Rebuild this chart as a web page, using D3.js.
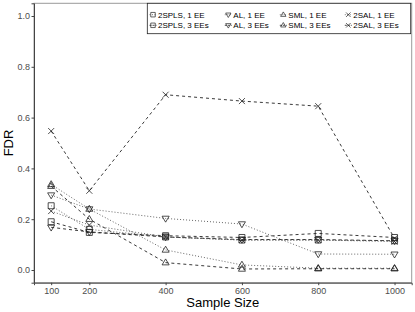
<!DOCTYPE html>
<html>
<head>
<meta charset="utf-8">
<script src="https://cdn.jsdelivr.net/npm/d3@7"></script>
<style>
  body { margin: 0; background: #fff; }
  text { font-family: "Liberation Sans", Arial, sans-serif; }
</style>
</head>
<body>
<script>
// sample sizes on the x axis
var sizes = [100, 200, 400, 600, 800, 1000];

// FDR values, one array per method / number of EEs
var fdr2spls1 = [0.253, 0.160, 0.130, 0.118, 0.118, 0.115];
var fdr2spls3 = [0.190, 0.148, 0.135, 0.128, 0.144, 0.128];
var fdrAl1 = [0.295, 0.240, 0.203, 0.181, 0.063, 0.062];
var fdrAl3 = [0.168, 0.150, 0.130, 0.120, 0.120, 0.115];
var fdrSml1 = [0.337, 0.240, 0.079, 0.020, 0.007, 0.007];
var fdrSml3 = [0.330, 0.200, 0.029, 0.004, 0.005, 0.005];
var fdr2sal1 = [0.232, 0.177, 0.130, 0.118, 0.118, 0.112];
var fdr2sal3 = [0.547, 0.312, 0.690, 0.665, 0.645, 0.125];

var seriesNames = ["2SPLS, 1 EE", "2SPLS, 3 EEs", "AL, 1 EE", "AL, 3 EEs",
                   "SML, 1 EE", "SML, 3 EEs", "2SAL, 1 EE", "2SAL, 3 EEs"];
var seriesShapes = ["square", "square", "down", "down", "up", "up", "cross", "cross"];
var seriesValues = [fdr2spls1, fdr2spls3, fdrAl1, fdrAl3, fdrSml1, fdrSml3, fdr2sal1, fdr2sal3];

var yTicks = [0, 0.2, 0.4, 0.6, 0.8, 1.0];
var xTicks = [100, 200, 400, 600, 800, 1000];

var w = 415, h = 312;
var pLeft = 34, pRight = 411.7, pTop = 3.3, pBottom = 282.7;

var svg = d3.select("body").append("svg")
    .attr("width", w)
    .attr("height", h);

var x = d3.scaleLinear().domain([55, 1045]).range([pLeft, pRight]);
var y = d3.scaleLinear().domain([-0.05, 1.05]).range([pBottom, pTop]);

// marker path builder, centred on 0,0
function shapePath(type, s) {
    var p = d3.path();
    if (type === "square") {
        p.rect(-s / 2, -s / 2, s, s);
    } else if (type === "up") {
        var r = s * 0.62;
        p.moveTo(0, -r); p.lineTo(r * 0.95, r * 0.6); p.lineTo(-r * 0.95, r * 0.6); p.closePath();
    } else if (type === "down") {
        var r2 = s * 0.62;
        p.moveTo(0, r2); p.lineTo(r2 * 0.95, -r2 * 0.6); p.lineTo(-r2 * 0.95, -r2 * 0.6); p.closePath();
    } else {
        var a = s / 2;
        p.moveTo(-a, -a); p.lineTo(a, a); p.moveTo(-a, a); p.lineTo(a, -a);
    }
    return p.toString();
}

function isThree(name) {
    return name.indexOf("3 EEs") >= 0;
}

// panel border
svg.append("rect")
    .attr("x", pLeft).attr("y", pTop)
    .attr("width", pRight - pLeft).attr("height", pBottom - pTop)
    .attr("fill", "none")
    .attr("stroke", "#9a9a9a")
    .attr("stroke-width", 1);

// axes
var yAxis = svg.append("g")
    .attr("transform", "translate(" + pLeft + ",0)")
    .call(d3.axisLeft(y).tickValues(yTicks).tickFormat(d3.format(".1f")).tickSize(2.5).tickPadding(1.5));
var xAxis = svg.append("g")
    .attr("transform", "translate(0," + pBottom + ")")
    .call(d3.axisBottom(x).tickValues(xTicks).tickFormat(d3.format("d")).tickSize(2.5).tickPadding(2.5));

[yAxis, xAxis].forEach(function(g) {
    g.select(".domain").attr("stroke", "#444").attr("stroke-width", 1);
    g.selectAll(".tick line").attr("stroke", "#444");
    g.selectAll(".tick text")
        .attr("fill", "#4d4d4d")
        .style("font-size", "9px")
        .style("font-family", "'Liberation Sans', Arial, sans-serif");
});

// lines and points
var line = d3.line()
    .x(function(d) { return x(d.size); })
    .y(function(d) { return y(d.value); });

seriesValues.forEach(function(vals, i) {
    var pts = sizes.map(function(s, j) { return { size: s, value: vals[j] }; });
    var three = isThree(seriesNames[i]);
    svg.append("path")
        .datum(pts)
        .attr("d", line)
        .attr("fill", "none")
        .attr("stroke", three ? "#222" : "#555")
        .attr("stroke-width", 0.9)
        .attr("stroke-dasharray", three ? "3,3" : "1,2");
    svg.selectAll(".pt" + i)
        .data(pts)
        .enter()
        .append("path")
        .attr("class", "pt" + i)
        .attr("transform", function(d) { return "translate(" + x(d.size) + "," + y(d.value) + ")"; })
        .attr("d", shapePath(seriesShapes[i], 6))
        .attr("fill", "none")
        .attr("stroke", "#222")
        .attr("stroke-width", 0.8);
});

// axis titles
svg.append("text")
    .attr("x", (pLeft + pRight) / 2)
    .attr("y", 306.8)
    .attr("text-anchor", "middle")
    .style("font-size", "13px")
    .text("Sample Size");

svg.append("text")
    .attr("transform", "translate(12.7," + ((pTop + pBottom) / 2) + ") rotate(-90)")
    .attr("text-anchor", "middle")
    .style("font-size", "13px")
    .text("FDR");

// legend (2 rows x 4 columns)
var legend = svg.append("g");
legend.append("rect")
    .attr("x", 147.3).attr("y", 3.3)
    .attr("width", 263.4).attr("height", 30.4)
    .attr("fill", "#fff")
    .attr("stroke", "#222")
    .attr("stroke-width", 0.8);

var keyX = [153, 228.3, 283.3, 348.3];
var rowY = [14.7, 25.3];

seriesNames.forEach(function(name, i) {
    var col = Math.floor(i / 2), row = i % 2;
    var kx = keyX[col], ky = rowY[row];
    var three = row === 1;
    legend.append("line")
        .attr("x1", kx - 3.5).attr("x2", kx + 3.5)
        .attr("y1", ky).attr("y2", ky)
        .attr("stroke", three ? "#222" : "#555")
        .attr("stroke-width", 0.8)
        .attr("stroke-dasharray", three ? "2,1" : "1,1.5");
    legend.append("path")
        .attr("transform", "translate(" + kx + "," + ky + ")")
        .attr("d", shapePath(seriesShapes[i], 4.5))
        .attr("fill", "none")
        .attr("stroke", "#222")
        .attr("stroke-width", 0.7);
    legend.append("text")
        .attr("x", kx + 5)
        .attr("y", ky)
        .attr("dy", "0.35em")
        .style("font-size", "8px")
        .text(name);
});
</script>
</body>
</html>
